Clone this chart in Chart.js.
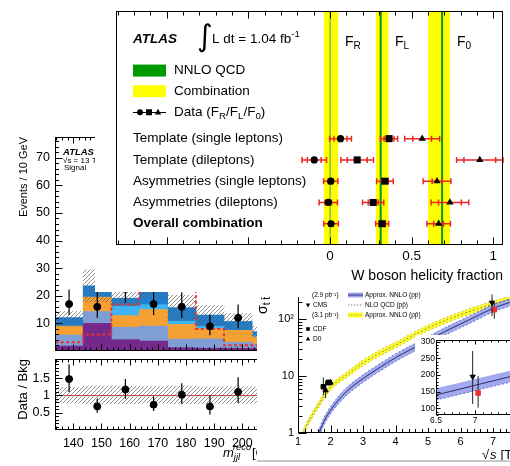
<!DOCTYPE html>
<html>
<head>
<meta charset="utf-8">
<title>W boson helicity fraction</title>
<script src="https://cdn.jsdelivr.net/npm/chart.js@4.4.1/dist/chart.umd.min.js"></script>
<style>
  html, body { margin: 0; padding: 0; background: #fff; }
  body { position: relative; width: 510px; height: 466px; overflow: hidden; }
  .panel { position: absolute; background: #fff; overflow: hidden; }
  canvas { display: block; }
</style>
</head>
<body>
<div class="panel" style="left:0;top:120px;width:360px;height:346px">
  <canvas id="histTop" width="360" height="236"></canvas>
  <canvas id="histRatio" width="360" height="112" style="position:absolute;left:0;top:234px"></canvas>
</div>
<div class="panel" style="left:257px;top:292px;width:253px;height:174px">
  <canvas id="xsec" width="280" height="174"></canvas>
  <canvas id="xsecInset" width="120" height="93" style="position:absolute;left:158px;top:43px;background:#fff"></canvas>
</div>
<div class="panel" style="left:95px;top:0;width:415px;height:292px">
  <canvas id="helicity" width="415" height="292"></canvas>
</div>
<script>
// ---- W helicity fractions (rows top to bottom) ----
const rowLabels = ['Template (single leptons)', 'Template (dileptons)', 'Asymmetries (single leptons)', 'Asymmetries (dileptons)', 'Overall combination'];
const rowPos = [5, 4, 3, 2, 1];
const fR = [0.065, -0.096, 0.005, -0.01, 0.007];
const fRStat = [0.04, 0.043, 0.015, 0.02, 0.012];
const fRTotal = [0.067, 0.075, 0.044, 0.056, 0.045];
const fL = [0.362, 0.167, 0.337, 0.265, 0.32];
const fLStat = [0.03, 0.061, 0.02, 0.03, 0.02];
const fLTotal = [0.053, 0.1, 0.051, 0.065, 0.04];
const f0 = [0.565, 0.918, 0.656, 0.735, 0.666];
const f0Stat = [0.057, 0.097, 0.03, 0.07, 0.03];
const f0Total = [0.107, 0.142, 0.085, 0.115, 0.072];
const combination = [0.007, 0.32, 0.668];
const combinationErr = [0.044, 0.038, 0.067];
const nnloQcd = [0.0017, 0.311, 0.687];
const helicityTicks = [0, 0.5, 1];

// ---- m_jjl histogram (background plot) ----
const binCentres = [138.5, 148.5, 158.5, 168.5, 178.5, 188.5, 198.5, 208.5];
const binEdges = [133.5, 143.5, 153.5, 163.5, 173.5, 183.5, 193.5, 203.5, 213.5];
const bkgPurple = [1.8, 10, 4.1, 3.6, 1.2, 1.0, 1.0, 1.0];
const bkgSteel = [4.0, 4.3, 4.5, 5.4, 3.1, 3.4, 2.2, 1.5];
const bkgOrange = [3.2, 5.2, 4.2, 6.0, 5.3, 3.6, 4.3, 2.5];
const bkgSky = [0, 0, 3.5, 1.8, 1.2, 1.0, 0, 0.5];
const bkgBlue = [3.1, 4.1, 2.8, 5.7, 4.9, 4.0, 3.2, 1.5];
const bkgUncLo = [9.0, 17.8, 16.3, 19.0, 11.0, 9.0, 8.0, 5.0];
const bkgUncHi = [14.3, 29.4, 22.5, 25.5, 20.2, 16.4, 13.6, 9.0];
const signal = [3.2, 6.0, 16.8, 28, 28, 8.0, 2.1, 2.0];
const dataX = [138.5, 148.5, 158.5, 168.5, 178.5, 188.5, 198.5];
const dataVal = [17, 16, 22.5, 17, 16, 9, 12];
const dataLo = [13, 12, 17.5, 13, 12, 5.7, 8.2];
const dataHi = [22.3, 21.5, 27, 22.3, 21.3, 13.2, 16.8];
const ratioVal = [1.47, 0.68, 1.17, 0.73, 1.02, 0.68, 1.1];
const ratioLo = [1.1, 0.5, 0.9, 0.55, 0.75, 0.45, 0.78];
const ratioHi = [1.9, 0.9, 1.47, 0.97, 1.35, 1.0, 1.52];
const ratioUncLo = [0.78, 0.75, 0.76, 0.78, 0.76, 0.77, 0.77, 0.78];
const ratioUncHi = [1.23, 1.27, 1.27, 1.25, 1.27, 1.24, 1.25, 1.24];

// ---- ttbar cross section vs sqrt(s) (background plot) ----
const ppbarX = [1.15, 1.4, 1.7, 1.96, 2.5, 3, 3.5, 4, 4.5, 5, 5.5, 6, 6.5, 7, 7.5, 8];
const ppbarY = [1.0, 1.9, 3.6, 6.0, 10.5, 17, 25, 35, 50, 70, 93, 120, 150, 185, 222, 262];
const ppbarLo = [0.89, 1.7, 3.2, 5.35, 9.4, 15.2, 22.3, 31.3, 44.7, 62.5, 83, 107, 134, 165, 198, 234];
const ppbarHi = [1.12, 2.12, 4.0, 6.7, 11.7, 19, 28, 39.2, 56, 78.4, 104, 134, 168, 207, 248, 293];
const ppX = [1.62, 1.75, 2, 2.5, 3, 3.5, 4, 4.5, 5, 5.5, 6, 6.5, 7, 7.5, 8];
const ppY = [0.9, 1.4, 2.5, 5.4, 9, 14, 21, 30, 42, 60, 82, 113, 155, 195, 240];
const ppLo = [0.77, 1.2, 2.15, 4.6, 7.7, 12, 18, 25.8, 36, 51.5, 70.5, 97, 133, 168, 206];
const ppHi = [1.05, 1.63, 2.9, 6.3, 10.5, 16.3, 24.5, 35, 49, 70, 95.5, 131, 180, 226, 278];
const cdfX = [1.78, 1.93, 1.96];
const cdfY = [6.5, 7.7, 7.7];
const cdfLo = [4.6, 7.0, 7.0];
const cdfHi = [9.4, 8.4, 8.4];
const d0X = [1.85, 2.0];
const d0Y = [5.6, 7.7];
const d0Lo = [4.1, 7.0];
const d0Hi = [7.9, 8.4];
const cmsX = [6.97];
const cmsY = [195];
const cmsLo = [113];
const cmsHi = [272];
const atlasX = [7.04];
const atlasY = [146];
const atlasLo = [102];
const atlasHi = [197];
const ppInsetX = [6.5, 7, 7.5];
const ppInsetY = [140, 169, 198];
const ppInsetLo = [125, 153, 181];
const ppInsetHi = [160, 188, 216];

const FONT = '"Liberation Sans", Arial, Helvetica, sans-serif';
Chart.defaults.font.family = FONT;
Chart.defaults.color = '#000';
Chart.defaults.animation = false;
Chart.defaults.responsive = false;
Chart.defaults.devicePixelRatio = 1;
Chart.defaults.plugins.legend.display = false;
Chart.defaults.plugins.tooltip.enabled = false;

// axis tick positions only
function steps(a, b, s) {
  const out = [];
  for (let v = a; v <= b + 1e-9; v += s) out.push(+v.toFixed(4));
  return out;
}
const fixTicks = vals => s => { s.ticks = vals.map(v => ({ value: v })); };
const noGrid = { display: false, drawTicks: false };
// fixed axis box, no extra label overhang padding
const fitX = h => s => { s.height = h; s.paddingLeft = 0; s.paddingRight = 0; };
const fitY = w => s => { s.width = w; s.paddingTop = 0; s.paddingBottom = 0; };

function makeHatch(color) {
  const c = document.createElement('canvas');
  c.width = 4; c.height = 4;
  const g = c.getContext('2d');
  g.strokeStyle = color;
  g.lineWidth = 0.9;
  g.beginPath();
  g.moveTo(0, 4); g.lineTo(4, 0);
  g.moveTo(-1, 1); g.lineTo(1, -1);
  g.moveTo(3, 5); g.lineTo(5, 3);
  g.stroke();
  return g.createPattern(c, 'repeat');
}

function richText(ctx, parts, x, y, size, style) {
  parts.forEach(([t, kind]) => {
    const s = kind ? size * 0.72 : size;
    ctx.font = `${style || ''} ${s}px ${FONT}`;
    const dy = kind === 'sub' ? size * 0.3 : kind === 'sup' ? -size * 0.38 : 0;
    ctx.fillText(t, x, y + dy);
    x += ctx.measureText(t).width;
  });
  return x;
}

function drawMarker(ctx, kind, x, y, r) {
  ctx.beginPath();
  if (kind === 'circle') ctx.arc(x, y, r, 0, Math.PI * 2);
  if (kind === 'rect') ctx.rect(x - r, y - r, 2 * r, 2 * r);
  if (kind === 'triangle') { ctx.moveTo(x, y - r * 1.1); ctx.lineTo(x + r, y + r * 0.7); ctx.lineTo(x - r, y + r * 0.7); }
  if (kind === 'down') { ctx.moveTo(x, y + r * 1.1); ctx.lineTo(x + r, y - r * 0.7); ctx.lineTo(x - r, y - r * 0.7); }
  ctx.closePath();
  ctx.fill();
}

// frame lines and inward ticks (ROOT style)
const frameTicks = {
  id: 'frameTicks',
  afterDatasetsDraw(chart, args, opts) {
    const { ctx, chartArea: a } = chart;
    const L = Math.round(a.left) + 0.5, R = Math.round(a.right) - 0.5;
    const T = Math.round(a.top) + 0.5, B = Math.round(a.bottom) - 0.5;
    ctx.save();
    ctx.strokeStyle = '#000';
    ctx.lineWidth = 1;
    ctx.beginPath();
    (opts.sides || []).forEach(s => {
      if (s === 'left') { ctx.moveTo(L, T - 0.5); ctx.lineTo(L, B + 0.5); }
      if (s === 'right') { ctx.moveTo(R, T - 0.5); ctx.lineTo(R, B + 0.5); }
      if (s === 'top') { ctx.moveTo(L - 0.5, T); ctx.lineTo(R + 0.5, T); }
      if (s === 'bottom') { ctx.moveTo(L - 0.5, B); ctx.lineTo(R + 0.5, B); }
    });
    (opts.ticks || []).forEach(t => {
      const sc = chart.scales[t.scale];
      t.values.forEach(v => {
        if (v < sc.min - 1e-9 || v > sc.max + 1e-9) return;
        const p = Math.round(sc.getPixelForValue(v)) + 0.5;
        if (t.side === 'bottom') { ctx.moveTo(p, B); ctx.lineTo(p, B - t.len); }
        if (t.side === 'top') { ctx.moveTo(p, T); ctx.lineTo(p, T + t.len); }
        if (t.side === 'left') { ctx.moveTo(L, p); ctx.lineTo(L + t.len, p); }
      });
    });
    ctx.stroke();
    ctx.restore();
  }
};

// error bars, drawn just before each dataset's markers
const errorBars = {
  id: 'errorBars',
  beforeDatasetDraw(chart, args) {
    const ds = chart.data.datasets[args.index];
    const e = ds.err;
    if (!e) return;
    const { ctx } = chart;
    const xs = chart.scales[args.meta.xAxisID], ys = chart.scales[args.meta.yAxisID];
    ctx.save();
    ctx.strokeStyle = e.color;
    ctx.lineWidth = e.width;
    ctx.beginPath();
    ds.data.forEach((pt, i) => {
      const px = xs.getPixelForValue(pt.x), py = ys.getPixelForValue(pt.y);
      if (e.xTot) {
        const x0 = xs.getPixelForValue(pt.x - e.xTot[i]), x1 = xs.getPixelForValue(pt.x + e.xTot[i]);
        ctx.moveTo(x0, py); ctx.lineTo(x1, py);
        const ends = [x0, x1];
        if (e.xStat) ends.push(xs.getPixelForValue(pt.x - e.xStat[i]), xs.getPixelForValue(pt.x + e.xStat[i]));
        ends.forEach(m => { ctx.moveTo(m, py - e.cap); ctx.lineTo(m, py + e.cap); });
      }
      if (e.yLo) {
        const y0 = ys.getPixelForValue(e.yLo[i]), y1 = ys.getPixelForValue(e.yHi[i]);
        ctx.moveTo(px, y0); ctx.lineTo(px, y1);
        if (e.cap) [y0, y1].forEach(m => { ctx.moveTo(px - e.cap, m); ctx.lineTo(px + e.cap, m); });
      }
    });
    ctx.stroke();
    ctx.restore();
  }
};

// ================= histogram (top panel) =================
const hatch = makeHatch('rgba(90,90,90,0.75)');
const bkgBar = (vals, color) => ({
  type: 'bar',
  data: binCentres.map((c, i) => ({ x: c, y: vals[i] })),
  backgroundColor: color, borderWidth: 0,
  barPercentage: 1, categoryPercentage: 1, grouped: false,
  yAxisID: 'y', order: 3
});
const signalSteps = [];
signal.forEach((v, i) => { signalSteps.push({ x: binEdges[i], y: v }, { x: binEdges[i + 1], y: v }); });

const histText = {
  id: 'histText',
  afterDraw(chart) {
    const { ctx } = chart;
    ctx.save();
    ctx.fillStyle = '#000';
    ctx.textBaseline = 'middle';
    ctx.font = `italic bold 9.5px ${FONT}`;
    ctx.fillText('ATLAS', 63, 32);
    ctx.font = `8px ${FONT}`;
    ctx.fillText('\u221As = 13 TeV, 3.2 fb\u207B\u00B9', 63, 41);
    ctx.fillText('Signal', 64, 48);
    ctx.restore();
  }
};

new Chart(document.getElementById('histTop'), {
  type: 'bar',
  data: {
    datasets: [
      {
        type: 'scatter', data: dataX.map((x, i) => ({ x, y: dataVal[i] })),
        yAxisID: 'y2', pointRadius: 3.5, backgroundColor: '#000', borderColor: '#000', order: 0,
        err: { yLo: dataLo, yHi: dataHi, color: '#000', width: 1.2, cap: 0 }
      },
      {
        type: 'line', data: signalSteps, yAxisID: 'y2', borderColor: '#e8322a',
        borderDash: [3, 2.5], borderWidth: 2, pointRadius: 0, order: 1
      },
      {
        type: 'bar', data: binCentres.map((c, i) => ({ x: c, y: [bkgUncLo[i], bkgUncHi[i]] })),
        backgroundColor: hatch, borderWidth: 0, barPercentage: 1, categoryPercentage: 1,
        grouped: false, yAxisID: 'y2', order: 2
      },
      bkgBar(bkgPurple, '#74288c'),
      bkgBar(bkgSteel, '#7f9fd4'),
      bkgBar(bkgOrange, '#f4a032'),
      bkgBar(bkgSky, '#3fb4f2'),
      bkgBar(bkgBlue, '#1e80d2')
    ]
  },
  options: {
    layout: { padding: { left: 0, right: 0, top: 17, bottom: 0 } },
    scales: {
      x: {
        type: 'linear', min: 133.5, max: 240, offset: false,
        grid: noGrid, border: { display: false }, ticks: { display: false },
        afterFit: fitX(2)
      },
      y: {
        stacked: true, min: 0, max: 77.5,
        grid: noGrid, border: { display: false },
        afterBuildTicks: fixTicks([10, 20, 30, 40, 50, 60, 70]),
        ticks: { font: { size: 12.5 }, padding: 5 },
        title: { display: true, text: 'Events / 10 GeV', align: 'end', font: { size: 11 }, padding: { top: 17, bottom: 0 } },
        afterFit: fitY(55)
      },
      y2: { display: false, min: 0, max: 77.5 }
    },
    plugins: {
      frameTicks: {
        sides: ['left', 'top', 'bottom'],
        ticks: [
          { scale: 'y', side: 'left', values: steps(10, 70, 10), len: 7 },
          { scale: 'y', side: 'left', values: steps(2, 76, 2), len: 3.5 },
          { scale: 'x', side: 'top', values: steps(140, 230, 10), len: 6 },
          { scale: 'x', side: 'top', values: steps(134, 240, 2), len: 3 },
          { scale: 'x', side: 'bottom', values: steps(140, 230, 10), len: 6 },
          { scale: 'x', side: 'bottom', values: steps(134, 240, 2), len: 3 }
        ]
      }
    }
  },
  plugins: [errorBars, frameTicks, histText]
});

// ================= histogram (ratio panel) =================
const ratioText = {
  id: 'ratioText',
  beforeDatasetsDraw(chart) {
    const { ctx, chartArea: a, scales: { y } } = chart;
    const py = Math.round(y.getPixelForValue(1)) + 0.5;
    ctx.save();
    ctx.strokeStyle = '#d8484a';
    ctx.lineWidth = 1;
    ctx.beginPath(); ctx.moveTo(a.left, py); ctx.lineTo(a.right, py); ctx.stroke();
    ctx.restore();
  },
  afterDraw(chart) {
    const { ctx } = chart;
    ctx.save();
    ctx.fillStyle = '#000';
    ctx.textBaseline = 'middle';
    richText(ctx, [['m'], ['jjl', 'sub']], 223, 99, 13, 'italic');
    ctx.font = `italic 9.4px ${FONT}`;
    ctx.fillText('reco', 233, 93);
    ctx.font = `13px ${FONT}`;
    ctx.fillText('[GeV]', 252, 99);
    ctx.restore();
  }
};

new Chart(document.getElementById('histRatio'), {
  type: 'bar',
  data: {
    datasets: [
      {
        type: 'scatter', data: dataX.map((x, i) => ({ x, y: ratioVal[i] })),
        pointRadius: 3.5, backgroundColor: '#000', borderColor: '#000', order: 0,
        err: { yLo: ratioLo, yHi: ratioHi, color: '#000', width: 1.2, cap: 0 }
      },
      {
        type: 'bar', data: binCentres.map((c, i) => ({ x: c, y: [ratioUncLo[i], ratioUncHi[i]] })),
        backgroundColor: hatch, borderWidth: 0, barPercentage: 1, categoryPercentage: 1,
        grouped: false, order: 2
      }
    ]
  },
  options: {
    layout: { padding: { left: 0, right: 0, top: 1, bottom: 0 } },
    scales: {
      x: {
        type: 'linear', min: 133.5, max: 240, offset: false,
        grid: noGrid, border: { display: false },
        afterBuildTicks: fixTicks(steps(140, 230, 10)),
        ticks: { font: { size: 12.5 }, padding: 6 },
        afterFit: fitX(36)
      },
      y: {
        min: 0, max: 2.05,
        grid: noGrid, border: { display: false },
        afterBuildTicks: fixTicks([0.5, 1, 1.5]),
        ticks: { font: { size: 12.5 }, padding: 5, callback: v => String(v) },
        title: { display: true, text: 'Data / Bkg', align: 'end', font: { size: 13 }, padding: { top: 16, bottom: 0 } },
        afterFit: fitY(55)
      }
    },
    plugins: {
      frameTicks: {
        sides: ['left', 'top', 'bottom'],
        ticks: [
          { scale: 'y', side: 'left', values: [0.5, 1, 1.5], len: 7 },
          { scale: 'y', side: 'left', values: steps(0.1, 2, 0.1), len: 3.5 },
          { scale: 'x', side: 'bottom', values: steps(140, 230, 10), len: 6 },
          { scale: 'x', side: 'bottom', values: steps(134, 240, 2), len: 3 },
          { scale: 'x', side: 'top', values: steps(140, 230, 10), len: 6 },
          { scale: 'x', side: 'top', values: steps(134, 240, 2), len: 3 }
        ]
      }
    }
  },
  plugins: [ratioText, errorBars, frameTicks]
});

// ================= cross section vs sqrt(s) =================
const curve = (xs, ys, style) => Object.assign({
  type: 'line', data: xs.map((x, i) => ({ x, y: ys[i] })),
  pointRadius: 0, cubicInterpolationMode: 'monotone', fill: false
}, style);
const marks = (xs, ys, lo, hi, style, errColor) => Object.assign({
  type: 'scatter', data: xs.map((x, i) => ({ x, y: ys[i] })), order: 0,
  err: { yLo: lo, yHi: hi, color: errColor || '#222', width: 1, cap: 0 }
}, style);
const blueFill = 'rgba(152,160,236,0.9)';

const xsecText = {
  id: 'xsecText',
  afterDraw(chart) {
    const { ctx } = chart;
    ctx.save();
    ctx.fillStyle = '#000';
    ctx.textBaseline = 'middle';
    // rotated y title, mostly hidden above the panel
    ctx.save();
    ctx.translate(6, 22);
    ctx.rotate(-Math.PI / 2);
    richText(ctx, [['\u03C3'], ['t t\u0304', 'sub'], [' [pb]']], 0, 0, 14, '');
    ctx.restore();
    // x title
    ctx.font = `13px ${FONT}`;
    ctx.fillText('\u221A', 225, 163);
    ctx.font = `italic 13px ${FONT}`;
    ctx.fillText('s', 233, 163);
    ctx.font = `13px ${FONT}`;
    ctx.fillText(' [TeV]', 240, 163);
    // legend
    ctx.font = `6.5px ${FONT}`;
    ctx.fillText('(2.9 pb\u207B\u00B9)', 55, 3);
    ctx.fillText('CMS', 56, 13);
    ctx.fillText('(3.1 pb\u207B\u00B9)', 55, 23);
    ctx.fillText('CDF', 56, 37);
    ctx.fillText('D0', 56, 47);
    ctx.fillText('Approx. NNLO (pp)', 108, 3);
    ctx.fillText('NLO QCD (pp\u0304)', 108, 13);
    ctx.fillText('Approx. NNLO (pp\u0304)', 108, 23);
    drawMarker(ctx, 'down', 51, 13, 2.2);
    drawMarker(ctx, 'rect', 51, 37, 1.8);
    drawMarker(ctx, 'triangle', 51, 47, 2.2);
    ctx.fillStyle = blueFill;
    ctx.fillRect(91, 0.5, 15, 5);
    ctx.fillStyle = '#ffff30';
    ctx.fillRect(91, 20.5, 15, 5);
    ctx.lineWidth = 1;
    ctx.strokeStyle = '#2a3278';
    ctx.beginPath(); ctx.moveTo(91, 3); ctx.lineTo(106, 3); ctx.stroke();
    ctx.setLineDash([1.5, 1.5]);
    ctx.strokeStyle = '#888';
    ctx.beginPath(); ctx.moveTo(91, 13); ctx.lineTo(106, 13); ctx.stroke();
    ctx.strokeStyle = '#b8a800';
    ctx.beginPath(); ctx.moveTo(91, 23); ctx.lineTo(106, 23); ctx.stroke();
    ctx.setLineDash([]);
    // edge of the picture
    ctx.fillStyle = '#c8c8c8';
    ctx.fillRect(0, 168, 280, 2);
    ctx.restore();
  }
};

new Chart(document.getElementById('xsec'), {
  type: 'line',
  data: {
    datasets: [
      marks(cmsX, cmsY, cmsLo, cmsHi, { pointStyle: 'triangle', rotation: 180, pointRadius: 3, backgroundColor: '#000', borderColor: '#000' }),
      marks(atlasX, atlasY, atlasLo, atlasHi, { pointStyle: 'rect', pointRadius: 3.2, backgroundColor: '#f03030', borderColor: '#f03030' }),
      marks(cdfX, cdfY, cdfLo, cdfHi, { pointStyle: 'rect', pointRadius: 3.2, backgroundColor: '#000', borderColor: '#000' }),
      marks(d0X, d0Y, d0Lo, d0Hi, { pointStyle: 'triangle', pointRadius: 3, backgroundColor: '#000', borderColor: '#000' }),
      curve(ppX, ppY, { borderColor: '#26306a', borderWidth: 1, order: 1 }),
      curve(ppbarX, ppbarY, { borderColor: '#6a6a6a', borderWidth: 0.8, borderDash: [2, 2], order: 1 }),
      curve(ppX, ppLo, { borderColor: '#5660c4', borderWidth: 0.8, borderDash: [2, 2], order: 2 }),
      curve(ppX, ppHi, { borderColor: '#5660c4', borderWidth: 0.8, borderDash: [2, 2], fill: '-1', backgroundColor: blueFill, order: 2 }),
      curve(ppbarX, ppbarLo, { borderColor: '#c4b400', borderWidth: 0.8, borderDash: [2, 2], order: 3 }),
      curve(ppbarX, ppbarHi, { borderColor: '#c4b400', borderWidth: 0.8, borderDash: [2, 2], fill: '-1', backgroundColor: '#ffff30', order: 3 })
    ]
  },
  options: {
    layout: { padding: { left: 0, right: 11.5, top: 0, bottom: 0 } },
    scales: {
      x: {
        type: 'linear', min: 1, max: 8,
        grid: noGrid, border: { display: false },
        afterBuildTicks: fixTicks([1, 2, 3, 4, 5, 6, 7]),
        ticks: { font: { size: 11 }, padding: 2 },
        afterFit: fitX(33)
      },
      y: {
        type: 'logarithmic', min: 1, max: 245,
        grid: noGrid, border: { display: false },
        afterBuildTicks: fixTicks([1, 10, 100]),
        ticks: { font: { size: 11 }, padding: 4, callback: v => ({ 1: '1', 10: '10', 100: '10\u00B2' })[v] },
        afterFit: fitY(41)
      }
    },
    plugins: {
      frameTicks: {
        sides: ['left', 'bottom'],
        ticks: [
          { scale: 'x', side: 'bottom', values: steps(1, 8, 1), len: 7 },
          { scale: 'x', side: 'bottom', values: steps(1, 8, 0.2), len: 3.5 },
          { scale: 'y', side: 'left', values: [1, 10, 100], len: 8 },
          { scale: 'y', side: 'left', values: [2, 3, 4, 5, 6, 7, 8, 9, 20, 30, 40, 50, 60, 70, 80, 90, 200], len: 4 }
        ]
      }
    }
  },
  plugins: [errorBars, frameTicks, xsecText]
});

new Chart(document.getElementById('xsecInset'), {
  type: 'line',
  data: {
    datasets: [
      marks(cmsX, cmsY, cmsLo, cmsHi, { pointStyle: 'triangle', rotation: 180, pointRadius: 3, backgroundColor: '#000', borderColor: '#000' }),
      marks(atlasX, atlasY, atlasLo, atlasHi, { pointStyle: 'rect', pointRadius: 3.2, backgroundColor: '#f03030', borderColor: '#f03030' }),
      curve(ppInsetX, ppInsetY, { borderColor: '#26306a', borderWidth: 1, order: 1 }),
      curve(ppInsetX, ppInsetLo, { borderColor: '#5660c4', borderWidth: 0.8, borderDash: [2, 2], order: 2 }),
      curve(ppInsetX, ppInsetHi, { borderColor: 'rgba(0,0,0,0)', borderWidth: 0, fill: '-1', backgroundColor: blueFill, order: 2 })
    ]
  },
  options: {
    layout: { padding: { left: 0, right: 21, top: 5, bottom: 0 } },
    scales: {
      x: {
        type: 'linear', min: 6.5, max: 7.5,
        grid: noGrid, border: { display: false },
        afterBuildTicks: fixTicks([6.5, 7]),
        ticks: { font: { size: 8.5 }, padding: 1, callback: v => String(v) },
        afterFit: fitX(13)
      },
      y: {
        min: 80, max: 305,
        grid: noGrid, border: { display: false },
        afterBuildTicks: fixTicks([100, 150, 200, 250, 300]),
        ticks: { font: { size: 8.5 }, padding: 1 },
        afterFit: fitY(21)
      }
    },
    plugins: {
      frameTicks: {
        sides: ['left', 'top', 'bottom'],
        ticks: [
          { scale: 'y', side: 'left', values: steps(100, 300, 50), len: 4 },
          { scale: 'y', side: 'left', values: steps(80, 300, 10), len: 2 },
          { scale: 'x', side: 'bottom', values: [6.5, 7, 7.5], len: 4 },
          { scale: 'x', side: 'bottom', values: steps(6.5, 7.5, 0.1), len: 2 },
          { scale: 'x', side: 'top', values: [6.5, 7, 7.5], len: 4 },
          { scale: 'x', side: 'top', values: steps(6.5, 7.5, 0.1), len: 2 }
        ]
      }
    }
  },
  plugins: [errorBars, frameTicks]
});

// ================= W boson helicity fractions (front plot) =================
const legendRows = [8.2, 7.23, 6.24];

const helicityBands = {
  id: 'helicityBands',
  beforeDatasetsDraw(chart) {
    const { ctx, chartArea: a, scales: { x } } = chart;
    ctx.save();
    combination.forEach((c, i) => {
      const x0 = x.getPixelForValue(c - combinationErr[i]), x1 = x.getPixelForValue(c + combinationErr[i]);
      ctx.fillStyle = '#ffff00';
      ctx.fillRect(x0, a.top, x1 - x0, a.height);
    });
    nnloQcd.forEach((v, i) => {
      const xn = x.getPixelForValue(v);
      ctx.strokeStyle = i === 0 ? '#8cc43c' : '#0a960a';
      ctx.lineWidth = i === 0 ? 1.6 : 2;
      ctx.beginPath(); ctx.moveTo(xn, a.top); ctx.lineTo(xn, a.bottom); ctx.stroke();
    });
    ctx.restore();
  }
};

const helicityText = {
  id: 'helicityText',
  afterDraw(chart) {
    const { ctx, chartArea: a, scales: { y } } = chart;
    const x0 = a.left + 17;
    ctx.save();
    ctx.fillStyle = '#000';
    ctx.textBaseline = 'middle';
    rowLabels.forEach((t, i) => {
      ctx.font = `${i === rowLabels.length - 1 ? 'bold' : ''} 13.5px ${FONT}`;
      ctx.fillText(t, x0, y.getPixelForValue(rowPos[i]));
    });
    // header
    const yh = 39;
    ctx.font = `italic bold 13.5px ${FONT}`;
    ctx.fillText('ATLAS', x0, yh);
    ctx.font = `30px "DejaVu Sans", ${FONT}`;
    ctx.fillText('\u222B', 102, yh - 1);
    richText(ctx, [['L dt = 1.04 fb'], ['-1', 'sup']], 117, yh, 13.5, '');
    richText(ctx, [['F'], ['R', 'sub']], 250, 42, 14, '');
    richText(ctx, [['F'], ['L', 'sub']], 300, 42, 14, '');
    richText(ctx, [['F'], ['0', 'sub']], 362, 42, 14, '');
    // legend
    const [yNnlo, yComb, yData] = legendRows.map(v => y.getPixelForValue(v));
    ctx.fillStyle = '#009a00';
    ctx.fillRect(x0, yNnlo - 6, 33, 12);
    ctx.fillStyle = '#ffff00';
    ctx.fillRect(x0, yComb - 6, 33, 12);
    ctx.fillStyle = '#000';
    ctx.strokeStyle = '#000';
    ctx.lineWidth = 1;
    ctx.beginPath(); ctx.moveTo(x0, Math.round(yData) + 0.5); ctx.lineTo(x0 + 33, Math.round(yData) + 0.5); ctx.stroke();
    drawMarker(ctx, 'circle', x0 + 7, yData, 3);
    drawMarker(ctx, 'rect', x0 + 16, yData, 3);
    drawMarker(ctx, 'triangle', x0 + 25, yData, 3.2);
    ctx.font = `13.5px ${FONT}`;
    ctx.fillText('NNLO QCD', x0 + 41, yNnlo);
    ctx.fillText('Combination', x0 + 41, yComb);
    richText(ctx, [['Data (F'], ['R', 'sub'], ['/F'], ['L', 'sub'], ['/F'], ['0', 'sub'], [')']], x0 + 41, yData, 13.5, '');
    ctx.restore();
  }
};

const rowPoints = vals => vals.map((v, i) => ({ x: v, y: rowPos[i] }));
const redErr = (tot, stat) => ({ xTot: tot, xStat: stat, color: '#f02424', width: 1.5, cap: 3 });

new Chart(document.getElementById('helicity'), {
  type: 'scatter',
  data: {
    datasets: [
      { data: rowPoints(fR), pointStyle: 'circle', pointRadius: 3.6, backgroundColor: '#000', borderColor: '#000', borderWidth: 0, err: redErr(fRTotal, fRStat) },
      { data: rowPoints(fL), pointStyle: 'rect', pointRadius: 5, backgroundColor: '#000', borderColor: '#000', borderWidth: 0, err: redErr(fLTotal, fLStat) },
      { data: rowPoints(f0), pointStyle: 'triangle', pointRadius: 4.2, backgroundColor: '#000', borderColor: '#000', borderWidth: 0, err: redErr(f0Total, f0Stat) }
    ]
  },
  options: {
    layout: { padding: { left: 21, right: 7, top: 11, bottom: 0 } },
    scales: {
      x: {
        type: 'linear', min: -1.31, max: 1.06,
        grid: noGrid, border: { display: false },
        afterBuildTicks: fixTicks(helicityTicks),
        ticks: { font: { size: 13.5 }, padding: 3, callback: v => String(v) },
        title: { display: true, text: 'W boson helicity fraction', align: 'end', font: { size: 14 }, padding: { top: 0, bottom: 7 } },
        afterFit: fitX(47)
      },
      y: { display: false, min: 0, max: 11 }
    },
    plugins: {
      frameTicks: {
        sides: ['left', 'right', 'top', 'bottom'],
        ticks: [
          { scale: 'x', side: 'top', values: steps(-1, 1, 0.5), len: 7 },
          { scale: 'x', side: 'top', values: steps(-1.3, 1, 0.1), len: 4 },
          { scale: 'x', side: 'bottom', values: steps(-1, 1, 0.5), len: 7 },
          { scale: 'x', side: 'bottom', values: steps(-1.3, 1, 0.1), len: 4 }
        ]
      }
    }
  },
  plugins: [helicityBands, errorBars, frameTicks, helicityText]
});
</script>
</body>
</html>
